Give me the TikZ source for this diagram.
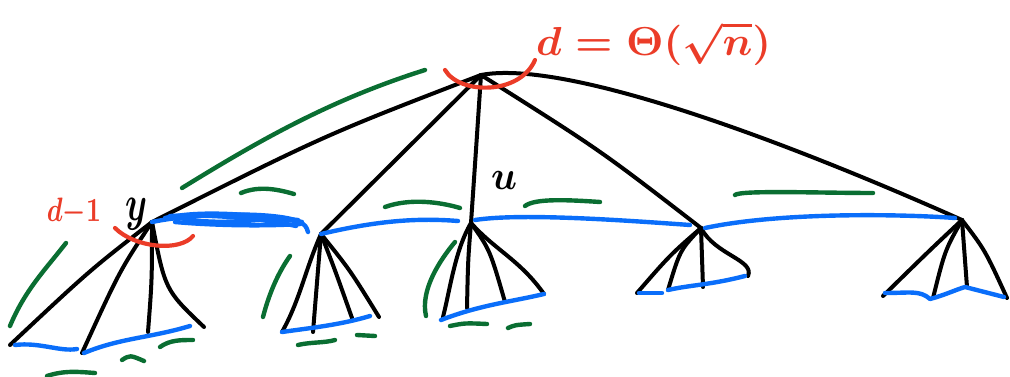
\documentclass[tikz,border=0pt]{standalone}
\usepackage{amsmath}
\usepackage{graphicx}
\definecolor{ink}{RGB}{0,0,0}
\definecolor{pblue}{RGB}{10,110,250}
\definecolor{pgreen}{RGB}{10,110,50}
\definecolor{pred}{RGB}{235,60,40}
\begin{document}
\begin{tikzpicture}[x=1pt,y=-1pt,
  edge/.style={draw=ink,line width=4pt,line cap=round,line join=round},
  bl/.style={draw=pblue,line width=4.4pt,line cap=round,line join=round},
  gr/.style={draw=pgreen,line width=4.4pt,line cap=round},
  rd/.style={draw=pred,line width=4.2pt,line cap=round},
  lbl/.style={inner sep=0pt}]
\useasboundingbox (0,0) rectangle (1010,377);
% tree nodes
\coordinate (r) at (481,75);
\coordinate (v1) at (152,222);
\coordinate (v2) at (321,234);
\coordinate (v3) at (471,223);
\coordinate (v4) at (701,228);
\coordinate (v5) at (962,220);
% leaves
\coordinate (a1) at (10,345); \coordinate (a2) at (82,353); \coordinate (a3) at (148,332); \coordinate (a4) at (204,327);
\coordinate (b1) at (282,332); \coordinate (b2) at (313,332); \coordinate (b3) at (352,318); \coordinate (b4) at (379,317);
\coordinate (c1) at (443,317); \coordinate (c2) at (467,308); \coordinate (c3) at (505,302); \coordinate (c4) at (544,294);
\coordinate (d1) at (637,293); \coordinate (d2) at (668,290); \coordinate (d3) at (703,287); \coordinate (d4) at (748,276);
\coordinate (e1) at (883,296); \coordinate (e2) at (933,298); \coordinate (e3) at (967,287); \coordinate (e4) at (1007,298);
% root edges
\draw[edge] (r) .. controls (325,135) .. (v1);
\draw[edge] (r) -- (v2);
\draw[edge] (r) .. controls (476,150) .. (v3);
\draw[edge] (r) .. controls (600,150) .. (v4);
\draw[edge] (r) .. controls (560,60) and (760,130) .. (v5);
% subtrees
\draw[edge] (v1) .. controls (90,270) .. (a1);
\draw[edge] (v1) .. controls (120,270) .. (a2);
\draw[edge] (v1) .. controls (152,280) .. (a3);
\draw[edge] (v1) .. controls (165,290) .. (a4);
\draw[edge] (v2) .. controls (305,270) and (300,300) .. (b1);
\draw[edge] (v2) .. controls (318,270) .. (b2);
\draw[edge] (v2) .. controls (335,270) .. (b3);
\draw[edge] (v2) .. controls (350,270) .. (b4);
\draw[edge] (v3) .. controls (455,250) and (450,290) .. (c1);
\draw[edge] (v3) .. controls (468,260) .. (c2);
\draw[edge] (v3) .. controls (490,250) .. (c3);
\draw[edge] (v3) .. controls (495,250) and (520,260) .. (c4);
\draw[edge] (v4) .. controls (670,255) .. (d1);
\draw[edge] (v4) .. controls (680,250) .. (d2);
\draw[edge] (v4) -- (d3);
\draw[edge] (v4) .. controls (715,255) and (755,260) .. (d4);
\draw[edge] (v5) .. controls (930,250) .. (e1);
\draw[edge] (v5) .. controls (945,250) .. (e2);
\draw[edge] (v5) -- (e3);
\draw[edge] (v5) .. controls (985,250) .. (e4);
% blue level lines
\draw[bl] (v1) .. controls (200,212) and (280,212) .. (300,222) .. controls (306,226) .. (308,232);
\draw[bl] (165,218) .. controls (210,208) and (270,218) .. (298,220);
\draw[bl] (175,222) .. controls (220,226) and (270,226) .. (300,224);
\draw[bl] (170,216) .. controls (220,214) and (270,220) .. (296,226);
\draw[bl] (180,218) .. controls (230,228) and (270,214) .. (302,222);
\draw[bl] (v2) .. controls (380,220) and (420,218) .. (458,221);
\draw[bl] (v3) ++(4,-3) .. controls (520,213) and (620,220) .. (690,225);
\draw[bl] (v4) ++(4,0) .. controls (780,212) and (900,214) .. (955,218);
\draw[bl] (a1) ++(5,0) .. controls (40,342) and (60,352) .. (77,349);
\draw[bl] (a2) ++(2,0) .. controls (120,338) and (150,338) .. (190,326);
\draw[bl] (b1) .. controls (310,328) and (340,325) .. (370,316);
\draw[bl] (c1) ++(-2,3) .. controls (480,305) and (510,302) .. (c4);
\draw[bl] (d1) ++(2,0) -- (662,293);
\draw[bl] (d2) .. controls (690,285) and (710,285) .. (745,276);
\draw[bl] (e1) ++(2,-3) .. controls (910,293) and (920,290) .. (930,299) .. controls (945,295) and (955,290) .. (965,287) .. controls (985,292) .. (1004,297);
% green lines
\draw[gr] (182,188) .. controls (260,140) and (330,100) .. (425,70);
\draw[gr] (241,193) .. controls (260,185) and (280,190) .. (294,194);
\draw[gr] (385,207) .. controls (410,198) and (440,202) .. (460,208);
\draw[gr] (525,206) .. controls (535,198) and (570,200) .. (600,202);
\draw[gr] (735,195) .. controls (740,190) and (820,193) .. (873,193);
\draw[gr] (10,326) .. controls (25,290) and (45,270) .. (66,243);
\draw[gr] (263,317) .. controls (270,290) and (280,270) .. (290,256);
\draw[gr] (426,316) .. controls (420,290) and (440,260) .. (455,242);
\draw[gr] (47,376) .. controls (65,370) and (80,372) .. (95,373);
\draw[gr] (122,360) .. controls (130,355) .. (144,361);
\draw[gr] (160,347) .. controls (170,340) and (180,340) .. (193,340);
\draw[gr] (298,345) .. controls (310,342) and (325,343) .. (335,340);
\draw[gr] (357,335) -- (375,336);
\draw[gr] (450,326) .. controls (465,323) .. (487,324);
\draw[gr] (508,328) .. controls (515,325) .. (530,324);
% red arcs and labels
\draw[rd] (445,70) .. controls (460,95) and (520,95) .. (535,60);
\draw[rd] (115,228) .. controls (135,248) and (180,252) .. (193,236);
\node[lbl,text=pred,anchor=west] (big) at (536,44) {\resizebox*{235pt}{44pt}{\boldmath$d=\Theta(\sqrt{n})$}};
\node[lbl,text=pred] (dm1) at (74,212) {\resizebox*{54pt}{28pt}{\boldmath$d{-}1$}};
\node[lbl] (ylab) at (137,214) {\resizebox*{22pt}{32pt}{\boldmath$y$}};
\node[lbl] (ulab) at (504,180) {\resizebox*{26pt}{18pt}{\boldmath$u$}};
\end{tikzpicture}
\end{document}
